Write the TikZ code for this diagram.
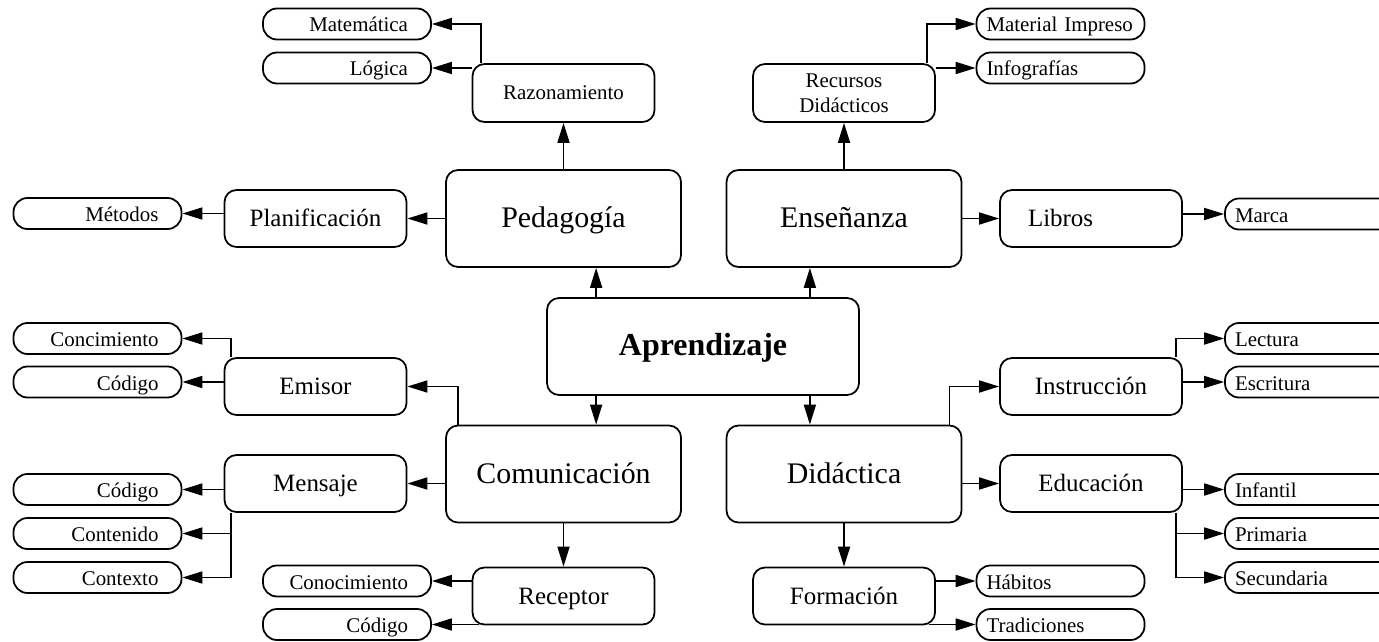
\documentclass[tikz,border=0pt]{standalone}
\usepackage{fontspec}
\setmainfont{Liberation Serif}
\usetikzlibrary{arrows.meta}

\begin{document}
\begin{tikzpicture}[
  box/.style={draw, line width=1pt, rounded corners=0.24cm, inner sep=0pt, align=center},
  core/.style={box, minimum width=6.24cm, minimum height=1.94cm, text height=0.46cm, text depth=0.12cm, font=\fontsize{18.2}{22}\selectfont\bfseries},
  area/.style={box, minimum width=4.7cm, minimum height=1.94cm, text height=0.46cm, text depth=0.1cm, font=\fontsize{17}{20}\selectfont},
  topic/.style={box, minimum width=3.64cm, minimum height=1.14cm, text height=0.4cm, text depth=0.08cm, font=\fontsize{14.2}{17}\selectfont},
  minor/.style={box, minimum width=3.64cm, minimum height=1.16cm, font=\fontsize{11.9}{14.5}\selectfont},
  leaf/.style={draw, line width=1pt, rounded corners=0.28cm, minimum height=0.62cm, inner ysep=0pt, text height=0.38cm, text depth=0.06cm, font=\fontsize{11.9}{14}\selectfont},
  leafL/.style={leaf, inner xsep=0.46cm, text width=2.44cm, align=right},
  leafR/.style={leaf, inner xsep=0.2cm, text width=2.96cm, align=left},
  arr/.style={line width=1pt, -{Triangle[length=0.4cm,width=0.24cm]}}
]
\useasboundingbox (0,0) rectangle (27.58,-12.82);
\clip (0,0) rectangle (27.58,-12.82);

\node[core] (apr) at (14.06,-6.93) {Aprendizaje};

\node[area] (ped) at (11.27,-4.37) {Pedagogía};
\node[area] (ens) at (16.88,-4.37) {Enseñanza};
\node[area] (com) at (11.27,-9.48) {Comunicación};
\node[area] (did) at (16.88,-9.48) {Didáctica};

\node[minor] (razon) at (11.27,-1.86) {Razonamiento};
\node[minor] (recur) at (16.88,-1.86) {Recursos\\Didácticos};

\node[topic] (plan) at (6.31,-4.37) {Planificación};
\node[topic, text width=2.52cm, align=left] (libros) at (21.82,-4.37) {Libros};
\node[topic] (emisor) at (6.31,-7.73) {Emisor};
\node[topic] (mensaje) at (6.31,-9.67) {Mensaje};
\node[topic] (receptor) at (11.27,-11.92) {Receptor};
\node[topic] (instr) at (21.82,-7.73) {Instrucción};
\node[topic] (educ) at (21.82,-9.67) {Educación};
\node[topic] (formac) at (16.88,-11.92) {Formación};

\node[leafL] (mat) at (6.94,-0.48) {Matemática};
\node[leafL] (logica) at (6.94,-1.36) {Lógica};
\node[leafL] (metodos) at (1.95,-4.27) {Métodos};
\node[leafR] (impreso) at (21.21,-0.48) {Material Impreso};
\node[leafR] (infog) at (21.21,-1.36) {Infografías};
\node[leafR] (marca) at (26.18,-4.28) {Marca};

\node[leafL] (concim) at (1.95,-6.77) {Concimiento};
\node[leafL] (codE) at (1.95,-7.64) {Código};
\node[leafL] (codM) at (1.95,-9.79) {Código};
\node[leafL] (conten) at (1.95,-10.67) {Contenido};
\node[leafL] (contex) at (1.95,-11.55) {Contexto};
\node[leafL] (conoc) at (6.94,-11.62) {Conocimiento};
\node[leafL] (codR) at (6.94,-12.49) {Código};

\node[leafR] (lectura) at (26.18,-6.77) {Lectura};
\node[leafR] (escrit) at (26.18,-7.64) {Escritura};
\node[leafR] (infantil) at (26.18,-9.79) {Infantil};
\node[leafR] (primaria) at (26.18,-10.67) {Primaria};
\node[leafR] (secund) at (26.18,-11.55) {Secundaria};
\node[leafR] (habitos) at (21.21,-11.62) {Hábitos};
\node[leafR] (tradic) at (21.21,-12.49) {Tradiciones};

\coordinate (aprNW) at ([xshift=1cm]apr.north west);
\coordinate (aprNE) at ([xshift=-1cm]apr.north east);
\coordinate (aprSW) at ([xshift=1cm]apr.south west);
\coordinate (aprSE) at ([xshift=-1cm]apr.south east);
\coordinate (recL) at ([xshift=0.14cm]receptor.south west);
\coordinate (forR) at ([xshift=-0.14cm]formac.south east);

\draw[arr] (aprNW) -- (aprNW |- ped.south);
\draw[arr] (aprNE) -- (aprNE |- ens.south);
\draw[arr] (aprSW) -- (aprSW |- com.north);
\draw[arr] (aprSE) -- (aprSE |- did.north);

\draw[arr] (razon.south |- ped.north) -- (razon.south);
\draw[arr] ([xshift=0.18cm]razon.north west) |- (mat.east);
\draw[arr] (razon.west |- logica) -- (logica.east);
\draw[arr] (ped.west) -- (plan.east);
\draw[arr] (plan.west |- metodos) -- (metodos.east);

\draw[arr] (recur.south |- ens.north) -- (recur.south);
\draw[arr] ([xshift=-0.18cm]recur.north east) |- (impreso.west);
\draw[arr] (recur.east |- infog) -- (infog.west);
\draw[arr] (ens.east) -- (libros.west);
\draw[arr] (libros.east |- marca) -- (marca.west);

\draw[arr] ([xshift=0.26cm]com.north west) |- (emisor.east);
\draw[arr] ([xshift=0.14cm]emisor.north west) |- (concim.east);
\draw[arr] (emisor.west |- codE) -- (codE.east);
\draw[arr] (com.west |- mensaje) -- (mensaje.east);
\draw[arr] (mensaje.west |- codM) -- (codM.east);
\draw[arr] ([xshift=0.14cm]mensaje.south west) |- (conten.east);
\draw[arr] ([xshift=0.14cm]mensaje.south west) |- (contex.east);
\draw[arr] (receptor.north |- com.south) -- (receptor.north);
\draw[arr] (receptor.west |- conoc) -- (conoc.east);
\draw[arr] (recL |- codR) -- (codR.east);

\draw[arr] ([xshift=-0.26cm]did.north east) |- (instr.west);
\draw[arr] ([xshift=-0.14cm]instr.north east) |- (lectura.west);
\draw[arr] (instr.east |- escrit) -- (escrit.west);
\draw[arr] (did.east |- educ) -- (educ.west);
\draw[arr] (educ.east |- infantil) -- (infantil.west);
\draw[arr] ([xshift=-0.14cm]educ.south east) |- (primaria.west);
\draw[arr] ([xshift=-0.14cm]educ.south east) |- (secund.west);
\draw[arr] (formac.north |- did.south) -- (formac.north);
\draw[arr] (formac.east |- habitos) -- (habitos.west);
\draw[arr] (forR |- tradic) -- (tradic.west);

\end{tikzpicture}
\end{document}
